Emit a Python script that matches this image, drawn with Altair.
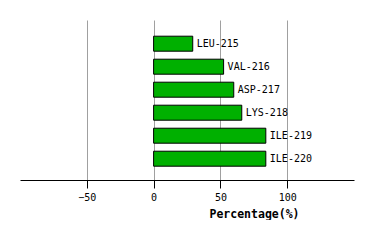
import altair as alt
import pandas as pd

residues = ["LEU-215", "VAL-216", "ASP-217", "LYS-218", "ILE-219", "ILE-220"]
percent = [29.3, 52.4, 60.0, 66.0, 84.0, 84.0]
tick_values = [-50, 0, 50, 100]

df = pd.DataFrame({"res": residues, "pct": percent})

FONT = "DejaVu Sans Mono"

y_enc = alt.Y("res:N", sort=residues, axis=None,
              scale=alt.Scale(paddingInner=0.348, paddingOuter=0.652, align=0.54))
x_scale = alt.Scale(domain=[-100, 150], nice=False, zero=False)

bars = alt.Chart(df).mark_bar(color="#00b000", stroke="black", strokeWidth=1).encode(
    x=alt.X("pct:Q", scale=x_scale,
            axis=alt.Axis(values=tick_values, title="Percentage(%)", grid=True,
                          gridColor="#a0a0a0", gridWidth=1,
                          domainColor="black", tickColor="black", tickSize=8,
                          labelFont=FONT, labelFontSize=10, labelColor="black",
                          labelPadding=4,
                          titleFont=FONT, titleFontSize=11.5, titleFontWeight="bold",
                          titleColor="black", titlePadding=6, titleX=234, titleAlign="center")),
    x2=alt.datum(0),
    y=y_enc,
)

labels = alt.Chart(df).mark_text(align="left", baseline="middle", dx=4,
                                 font=FONT, fontSize=10, color="black").encode(
    x=alt.X("pct:Q", scale=x_scale),
    y=y_enc,
    text="res:N",
)

chart = (bars + labels).properties(
    width=334, height=160,
    background="white",
    padding={"left": 20, "top": 20, "right": 20, "bottom": 0},
).configure_view(strokeWidth=0, stroke=None)

chart.save("out.html", embed_options={"renderer": "svg", "actions": False})
